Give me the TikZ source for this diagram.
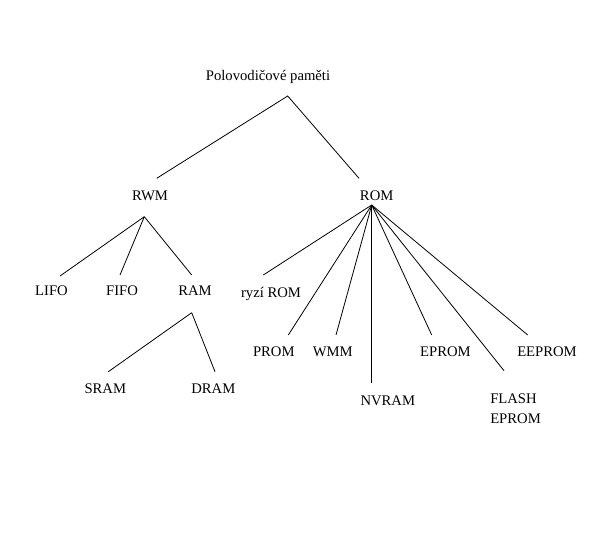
\documentclass[tikz,border=0pt]{standalone}
\usepackage{fontspec}
\setmainfont{Liberation Serif}
\begin{document}
\begin{tikzpicture}[x=0.75pt,y=-0.75pt,
  lbl/.style={anchor=base,inner sep=0pt,font=\fontsize{11}{15}\selectfont},
  edge/.style={draw=black,line width=0.6pt}]
\useasboundingbox[fill=white] (0,0) rectangle (603,552);
% labels
\node[lbl] (pp) at (268,80.5) {Polovodičové paměti};
\node[lbl] (rwm) at (150,201) {RWM};
\node[lbl] (rom) at (376.7,201) {ROM};
\node[lbl] (lifo) at (51.5,295.5) {LIFO};
\node[lbl] (fifo) at (122,295.5) {FIFO};
\node[lbl] (ram) at (195,295.5) {RAM};
\node[lbl] (ryzi) at (271,297.4) {ryzí ROM};
\node[lbl] (prom) at (273.8,356.7) {PROM};
\node[lbl] (wmm) at (332.8,356.7) {WMM};
\node[lbl] (eprom) at (445.5,356.7) {EPROM};
\node[lbl] (eeprom) at (547,356.7) {EEPROM};
\node[lbl] (nvram) at (387.8,405) {NVRAM};
\node[lbl,anchor=base west,align=left] (flash) at (490,423.3) {FLASH\\EPROM};
\node[lbl] (sram) at (105.3,393.3) {SRAM};
\node[lbl] (dram) at (213.3,393.3) {DRAM};
% connector end points
\coordinate (ppB) at (287.7,96);
\coordinate (rwmT) at (156.7,178.3);
\coordinate (romT) at (359,178.3);
\coordinate (rwmB) at (144.3,216.7);
\coordinate (lifoT) at (60,276);
\coordinate (fifoT) at (120,275);
\coordinate (ramT) at (191.7,275);
\coordinate (ramB) at (191.7,312.7);
\coordinate (sramT) at (108.3,371.7);
\coordinate (dramT) at (215,371.7);
\coordinate (romB) at (371.7,205);
\coordinate (ryziT) at (263.3,275);
\coordinate (promT) at (288.3,335);
\coordinate (wmmT) at (336,335);
\coordinate (nvramT) at (371.7,383.3);
\coordinate (epromT) at (431.7,335);
\coordinate (flashT) at (504,370.7);
\coordinate (eepromT) at (527.7,335);
% connectors
\draw[edge] (rwmT) -- (ppB) -- (romT);
\draw[edge] (rwmB) -- (lifoT);
\draw[edge] (rwmB) -- (fifoT);
\draw[edge] (rwmB) -- (ramT);
\draw[edge] (ramB) -- (sramT);
\draw[edge] (ramB) -- (dramT);
\foreach \c in {ryziT,promT,wmmT,nvramT,epromT,flashT,eepromT}
  \draw[edge] (romB) -- (\c);
\end{tikzpicture}
\end{document}
